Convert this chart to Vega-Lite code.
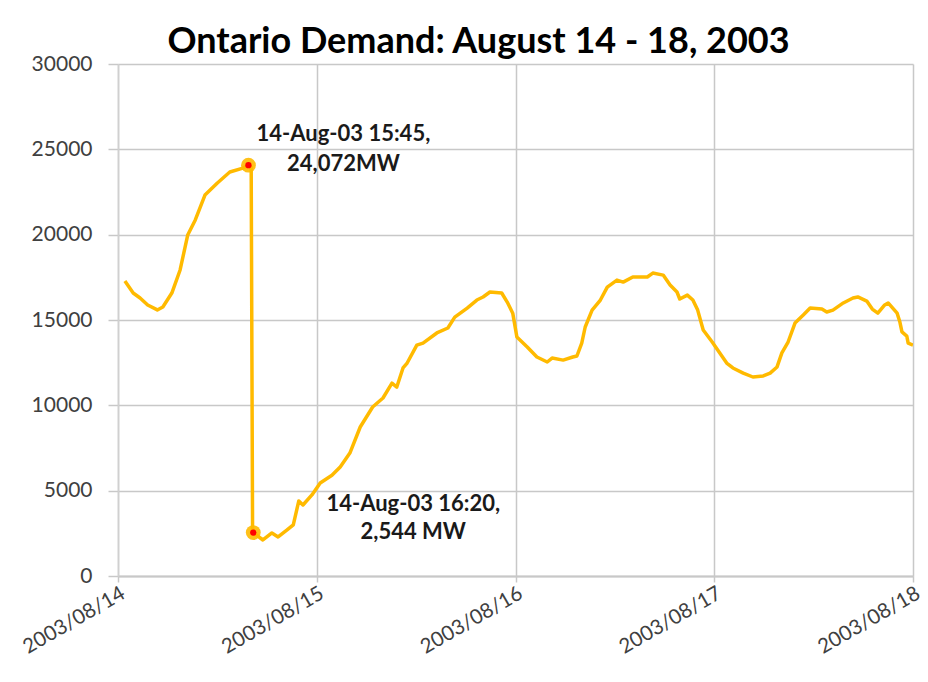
{
  "$schema": "https://vega.github.io/schema/vega-lite/v6.json",
  "width": 795,
  "height": 512,
  "autosize": {"type": "none"},
  "padding": {"left": 118, "top": 64, "right": 15, "bottom": 106},
  "background": "white",
  "title": {
    "text": "Ontario Demand: August 14 - 18, 2003",
    "font": "Lato",
    "fontSize": 36,
    "fontWeight": "bold",
    "color": "#000000",
    "anchor": "middle",
    "frame": "group",
    "dx": -37,
    "offset": -8
  },
  "datasets": {
    "demand": [
      {"t": "2003-08-14T00:50:00", "mw": 17280},
      {"t": "2003-08-14T01:50:00", "mw": 16580},
      {"t": "2003-08-14T02:40:00", "mw": 16290},
      {"t": "2003-08-14T03:35:00", "mw": 15880},
      {"t": "2003-08-14T04:45:00", "mw": 15590},
      {"t": "2003-08-14T05:25:00", "mw": 15760},
      {"t": "2003-08-14T06:30:00", "mw": 16580},
      {"t": "2003-08-14T07:30:00", "mw": 17930},
      {"t": "2003-08-14T08:25:00", "mw": 19980},
      {"t": "2003-08-14T09:20:00", "mw": 20860},
      {"t": "2003-08-14T10:30:00", "mw": 22320},
      {"t": "2003-08-14T12:00:00", "mw": 23030},
      {"t": "2003-08-14T13:30:00", "mw": 23670},
      {"t": "2003-08-14T15:05:00", "mw": 23900},
      {"t": "2003-08-14T15:45:00", "mw": 24072},
      {"t": "2003-08-14T16:05:00", "mw": 23950},
      {"t": "2003-08-14T16:15:00", "mw": 2800},
      {"t": "2003-08-14T16:20:00", "mw": 2544},
      {"t": "2003-08-14T17:30:00", "mw": 2110},
      {"t": "2003-08-14T18:35:00", "mw": 2520},
      {"t": "2003-08-14T19:20:00", "mw": 2290},
      {"t": "2003-08-14T20:25:00", "mw": 2700},
      {"t": "2003-08-14T21:10:00", "mw": 3000},
      {"t": "2003-08-14T21:50:00", "mw": 4400},
      {"t": "2003-08-14T22:20:00", "mw": 4160},
      {"t": "2003-08-14T23:25:00", "mw": 4750},
      {"t": "2003-08-15T00:25:00", "mw": 5450},
      {"t": "2003-08-15T01:50:00", "mw": 5900},
      {"t": "2003-08-15T02:50:00", "mw": 6390},
      {"t": "2003-08-15T04:00:00", "mw": 7200},
      {"t": "2003-08-15T05:15:00", "mw": 8730},
      {"t": "2003-08-15T06:45:00", "mw": 9900},
      {"t": "2003-08-15T08:00:00", "mw": 10430},
      {"t": "2003-08-15T09:05:00", "mw": 11300},
      {"t": "2003-08-15T09:40:00", "mw": 11070},
      {"t": "2003-08-15T10:25:00", "mw": 12190},
      {"t": "2003-08-15T10:55:00", "mw": 12480},
      {"t": "2003-08-15T12:05:00", "mw": 13530},
      {"t": "2003-08-15T12:50:00", "mw": 13650},
      {"t": "2003-08-15T14:30:00", "mw": 14240},
      {"t": "2003-08-15T15:50:00", "mw": 14530},
      {"t": "2003-08-15T16:40:00", "mw": 15170},
      {"t": "2003-08-15T18:10:00", "mw": 15700},
      {"t": "2003-08-15T19:20:00", "mw": 16170},
      {"t": "2003-08-15T20:05:00", "mw": 16350},
      {"t": "2003-08-15T20:55:00", "mw": 16640},
      {"t": "2003-08-15T22:20:00", "mw": 16580},
      {"t": "2003-08-15T23:00:00", "mw": 16050},
      {"t": "2003-08-15T23:40:00", "mw": 15400},
      {"t": "2003-08-16T00:10:00", "mw": 14000},
      {"t": "2003-08-16T01:25:00", "mw": 13420},
      {"t": "2003-08-16T02:35:00", "mw": 12830},
      {"t": "2003-08-16T03:50:00", "mw": 12540},
      {"t": "2003-08-16T04:25:00", "mw": 12770},
      {"t": "2003-08-16T05:45:00", "mw": 12650},
      {"t": "2003-08-16T06:55:00", "mw": 12830},
      {"t": "2003-08-16T07:25:00", "mw": 12890},
      {"t": "2003-08-16T08:00:00", "mw": 13650},
      {"t": "2003-08-16T08:25:00", "mw": 14590},
      {"t": "2003-08-16T09:15:00", "mw": 15580},
      {"t": "2003-08-16T10:15:00", "mw": 16170},
      {"t": "2003-08-16T11:05:00", "mw": 16930},
      {"t": "2003-08-16T12:15:00", "mw": 17340},
      {"t": "2003-08-16T13:00:00", "mw": 17220},
      {"t": "2003-08-16T14:10:00", "mw": 17520},
      {"t": "2003-08-16T15:55:00", "mw": 17520},
      {"t": "2003-08-16T16:35:00", "mw": 17750},
      {"t": "2003-08-16T17:50:00", "mw": 17630},
      {"t": "2003-08-16T18:40:00", "mw": 17050},
      {"t": "2003-08-16T19:30:00", "mw": 16640},
      {"t": "2003-08-16T19:50:00", "mw": 16230},
      {"t": "2003-08-16T20:45:00", "mw": 16460},
      {"t": "2003-08-16T21:25:00", "mw": 16170},
      {"t": "2003-08-16T22:00:00", "mw": 15580},
      {"t": "2003-08-16T22:40:00", "mw": 14410},
      {"t": "2003-08-16T23:45:00", "mw": 13710},
      {"t": "2003-08-17T00:40:00", "mw": 13070},
      {"t": "2003-08-17T01:30:00", "mw": 12480},
      {"t": "2003-08-17T02:15:00", "mw": 12190},
      {"t": "2003-08-17T03:30:00", "mw": 11890},
      {"t": "2003-08-17T04:40:00", "mw": 11660},
      {"t": "2003-08-17T05:55:00", "mw": 11720},
      {"t": "2003-08-17T06:45:00", "mw": 11890},
      {"t": "2003-08-17T07:35:00", "mw": 12250},
      {"t": "2003-08-17T08:10:00", "mw": 13070},
      {"t": "2003-08-17T08:55:00", "mw": 13710},
      {"t": "2003-08-17T09:45:00", "mw": 14820},
      {"t": "2003-08-17T10:45:00", "mw": 15290},
      {"t": "2003-08-17T11:35:00", "mw": 15700},
      {"t": "2003-08-17T13:00:00", "mw": 15640},
      {"t": "2003-08-17T13:35:00", "mw": 15470},
      {"t": "2003-08-17T14:20:00", "mw": 15580},
      {"t": "2003-08-17T15:35:00", "mw": 16000},
      {"t": "2003-08-17T16:45:00", "mw": 16290},
      {"t": "2003-08-17T17:20:00", "mw": 16350},
      {"t": "2003-08-17T18:25:00", "mw": 16110},
      {"t": "2003-08-17T19:05:00", "mw": 15640},
      {"t": "2003-08-17T19:45:00", "mw": 15400},
      {"t": "2003-08-17T20:35:00", "mw": 15880},
      {"t": "2003-08-17T21:00:00", "mw": 16000},
      {"t": "2003-08-17T22:05:00", "mw": 15400},
      {"t": "2003-08-17T22:25:00", "mw": 14880},
      {"t": "2003-08-17T22:40:00", "mw": 14300},
      {"t": "2003-08-17T23:15:00", "mw": 14060},
      {"t": "2003-08-17T23:25:00", "mw": 13650},
      {"t": "2003-08-18T00:00:00", "mw": 13530}
    ],
    "events": [
      {"id": "peak", "t": "2003-08-14T15:45:00", "mw": 24072, "label": ["14-Aug-03 15:45,", "24,072MW"]},
      {"id": "low", "t": "2003-08-14T16:20:00", "mw": 2544, "label": ["14-Aug-03 16:20,", "2,544 MW"]}
    ]
  },
  "encoding": {
    "x": {
      "field": "t",
      "type": "temporal",
      "scale": {"domain": [{"year": 2003, "month": 8, "date": 14}, {"year": 2003, "month": 8, "date": 18}], "nice": false},
      "axis": {
        "title": null,
        "values": [
          {"year": 2003, "month": 8, "date": 14},
          {"year": 2003, "month": 8, "date": 15},
          {"year": 2003, "month": 8, "date": 16},
          {"year": 2003, "month": 8, "date": 17},
          {"year": 2003, "month": 8, "date": 18}
        ],
        "format": "%Y/%m/%d",
        "labelAngle": -30,
        "labelAlign": "right",
        "labelBaseline": "top",
        "labelFont": "Lato",
        "labelFontSize": 20.5,
        "labelColor": "#404040",
        "labelPadding": 1,
        "labelOverlap": false,
        "labelFlush": false,
        "tickSize": 6,
        "tickColor": "#c8c8c8",
        "tickWidth": 1.5,
        "domainColor": "#c8c8c8",
        "domainWidth": 2,
        "gridColor": "#c8c8c8",
        "gridWidth": 1.5
      }
    },
    "y": {
      "field": "mw",
      "type": "quantitative",
      "scale": {"domain": [0, 30000], "nice": false},
      "axis": {
        "title": null,
        "values": [0, 5000, 10000, 15000, 20000, 25000, 30000],
        "format": "d",
        "labelFont": "Lato",
        "labelFontSize": 21,
        "labelColor": "#404040",
        "labelPadding": 16,
        "tickSize": 10,
        "tickColor": "#c8c8c8",
        "tickWidth": 1.5,
        "domainColor": "#d0d0d0",
        "domainWidth": 1.5,
        "gridColor": "#c8c8c8",
        "gridWidth": 1.5
      }
    }
  },
  "layer": [
    {
      "data": {"name": "demand"},
      "mark": {"type": "line", "color": "#FFBA00", "strokeWidth": 3.5, "strokeJoin": "round", "clip": true}
    },
    {
      "data": {"name": "events"},
      "mark": {"type": "circle", "color": "#FFBA00", "size": 220, "opacity": 0.9}
    },
    {
      "data": {"name": "events"},
      "mark": {"type": "circle", "color": "#FF0000", "size": 40, "opacity": 1}
    },
    {
      "data": {"name": "events"},
      "transform": [{"filter": "datum.id === 'peak'"}],
      "mark": {"type": "text", "font": "Lato", "fontSize": 22, "fontWeight": "bold", "color": "#1a1a1a", "align": "center", "baseline": "alphabetic", "lineHeight": 30, "dx": 95, "dy": -24},
      "encoding": {"text": {"field": "label"}}
    },
    {
      "data": {"name": "events"},
      "transform": [{"filter": "datum.id === 'low'"}],
      "mark": {"type": "text", "font": "Lato", "fontSize": 22, "fontWeight": "bold", "color": "#1a1a1a", "align": "center", "baseline": "alphabetic", "lineHeight": 28, "dx": 160, "dy": -22},
      "encoding": {"text": {"field": "label"}}
    }
  ],
  "config": {
    "view": {"stroke": null},
    "axis": {"grid": true}
  }
}
